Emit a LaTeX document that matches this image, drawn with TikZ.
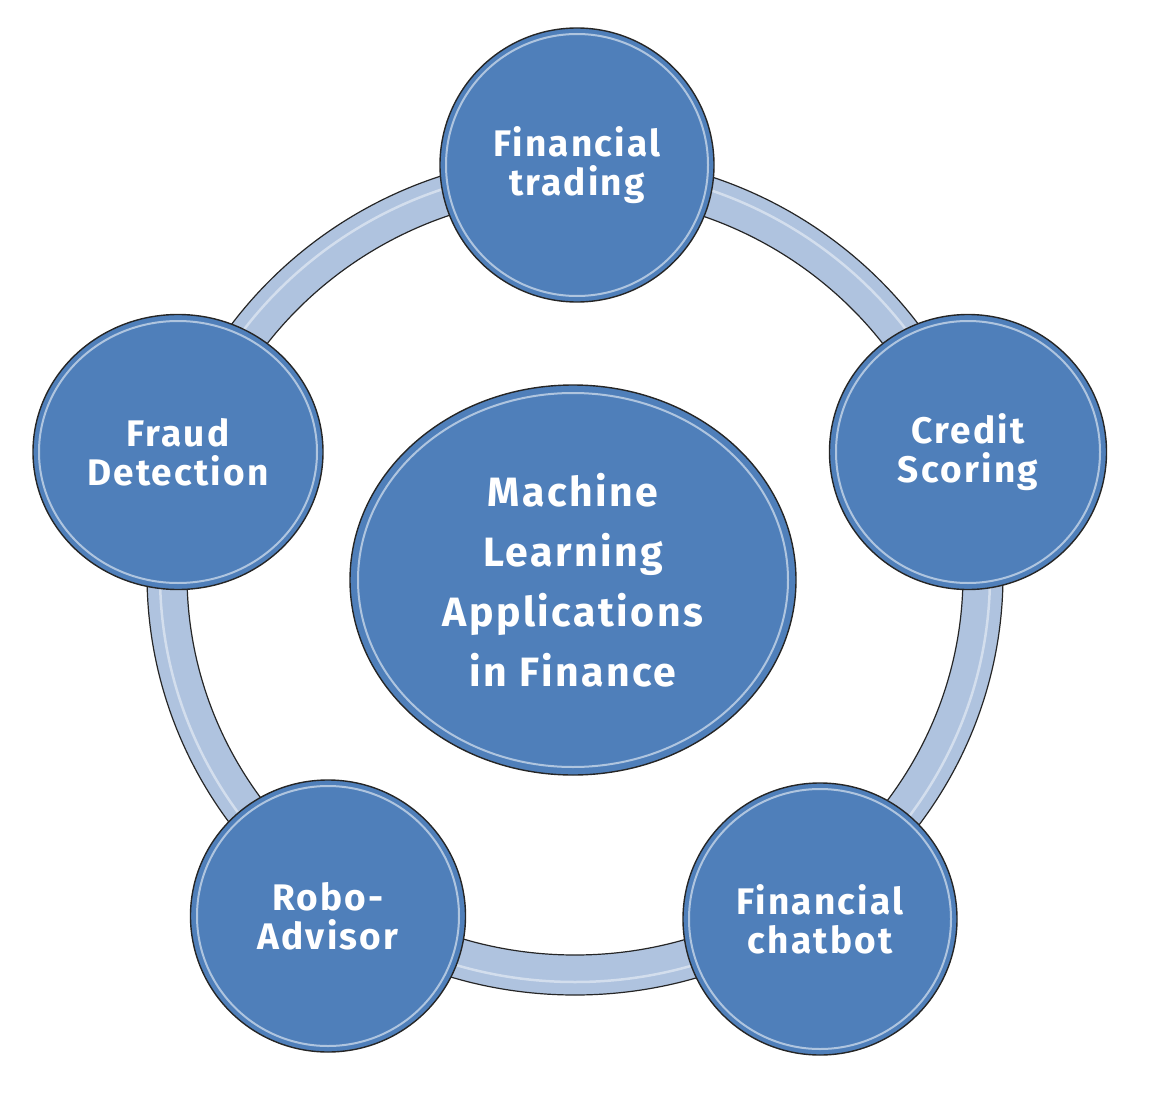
\documentclass[tikz,border=0pt]{standalone}
\usepackage{fontspec}
\setmainfont{Fira Sans}
\newfontfamily\techfont[LetterSpace=6]{Fira Sans}
\usepackage{xcolor}
\usepackage{tikz}
\usetikzlibrary{shapes.geometric,positioning}

\definecolor{bubbleblue}{HTML}{4F7FBA}
\definecolor{ringblue}{HTML}{AFC3DF}
\definecolor{edgegrey}{HTML}{262626}

\begin{document}
\begin{tikzpicture}[x=1pt,y=-1pt]
\tikzstyle{every node}=[inner sep=0pt, outer sep=0pt];
\tikzstyle{bubble}=[ellipse, fill=bubbleblue, draw=edgegrey, line width=1.4pt,
  text=white, align=center, font=\techfont\bfseries\fontsize{37}{39}\selectfont];
\tikzstyle{rim}=[draw=white, draw opacity=0.55, line width=2pt];
\tikzstyle{ringband}=[fill=ringblue, draw=edgegrey, line width=1.2pt, even odd rule];

\useasboundingbox (0,0) rectangle (1157,1097);

% ring behind the bubbles
\coordinate (hub) at (575,575);
\draw[ringband] (hub) ellipse [x radius=428, y radius=420]
                (hub) ellipse [x radius=388, y radius=380];
\draw[white, opacity=0.45, line width=2.5pt] (hub) ellipse [x radius=415, y radius=407];

% centre
\node[bubble, minimum width=446, minimum height=390,
  font=\techfont\bfseries\fontsize{41}{60}\selectfont] (ml) at (573,580)
  {Machine\\Learning\\Applications\\in Finance};

% applications
\node[bubble, minimum width=274, minimum height=274] (trade) at (577,165) {Financial\\trading};
\node[bubble, minimum width=277, minimum height=275] (credit) at (968,452) {Credit\\Scoring};
\node[bubble, minimum width=274, minimum height=272] (chat) at (820,919) {Financial\\chatbot};
\node[bubble, minimum width=275, minimum height=272] (robo) at (328,916) {Robo-\\Advisor};
\node[bubble, minimum width=290, minimum height=275] (fraud) at (178,452) {Fraud\\Detection};

\foreach \n/\rx/\ry in {ml/215/187,trade/131/131,credit/132/131,chat/131/130,robo/131/130,fraud/139/131} {
	\draw[rim] (\n.center) ellipse [x radius=\rx, y radius=\ry]; %bevel
}
\end{tikzpicture}
\end{document}
